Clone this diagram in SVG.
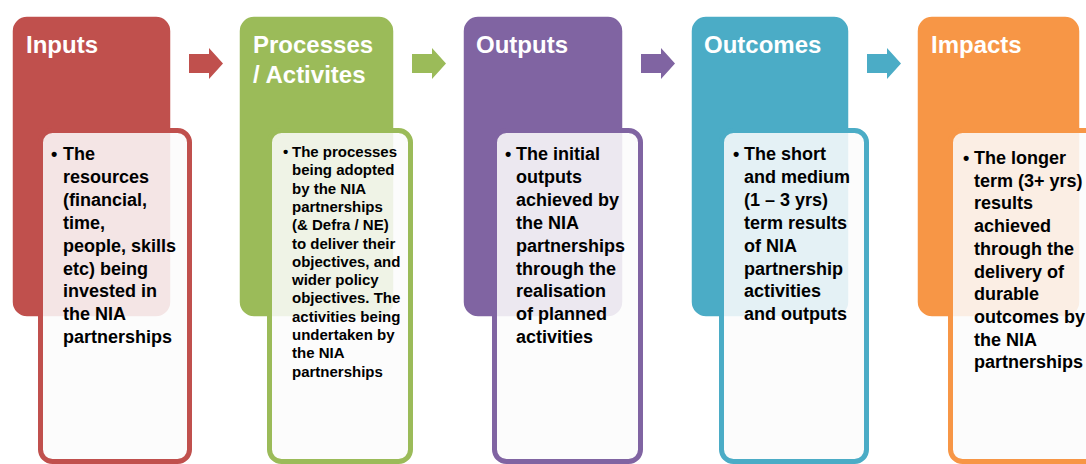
<svg xmlns="http://www.w3.org/2000/svg" width="1086" height="464" viewBox="0 0 1086 464">
<style>
.hd{stroke:#ffffff;stroke-width:1.5}
.tb{fill:#fcfcfc;fill-opacity:0.87;stroke-width:5}
.ht{font-family:"Liberation Sans",Arial,sans-serif;font-weight:bold;font-size:24px;fill:#ffffff}
.bt{font-family:"Liberation Sans",Arial,sans-serif;font-weight:bold;font-size:18px;fill:#000000}
.st{font-family:"Liberation Sans",Arial,sans-serif;font-weight:bold;font-size:15px;fill:#000000}
</style>
<rect width="1086" height="464" fill="#ffffff"/>
<g id="connectors">
<polygon points="189,54 209,54 209,48 223,63.5 209,79 209,73 189,73" fill="#C0504D"/>
<polygon points="412,54 432,54 432,48 446,63.5 432,79 432,73 412,73" fill="#9BBB59"/>
<polygon points="641,54 661,54 661,48 675,63.5 661,79 661,73 641,73" fill="#8064A2"/>
<polygon points="867,54 887,54 887,48 901,63.5 887,79 887,73 867,73" fill="#4BACC6"/>
</g>
<g id="inputs">
<rect class="hd" x="12" y="16" width="159" height="301" rx="15" fill="#C0504D"/>
<text class="ht" x="26" y="53">Inputs</text>
<rect class="tb" x="40.5" y="130.5" width="149" height="331" rx="12" stroke="#C0504D"/>
<text class="bt" x="51" y="160">•</text>
<text class="bt" x="63" y="160"><tspan x="63">The</tspan><tspan x="63" dy="22.9">resources</tspan><tspan x="63" dy="22.9">(financial,</tspan><tspan x="63" dy="22.9">time,</tspan><tspan x="63" dy="22.9">people, skills</tspan><tspan x="63" dy="22.9">etc) being</tspan><tspan x="63" dy="22.9">invested in</tspan><tspan x="63" dy="22.9">the NIA</tspan><tspan x="63" dy="22.9">partnerships</tspan></text>
</g>
<g id="processes">
<rect class="hd" x="239" y="16" width="155" height="301" rx="15" fill="#9BBB59"/>
<text class="ht" x="253" y="53">Processes</text>
<text class="ht" x="253" y="83">/ Activites</text>
<rect class="tb" x="269.5" y="130.5" width="141" height="331" rx="12" stroke="#9BBB59"/>
<text class="st" x="283" y="157">•</text>
<text class="st" x="292" y="157"><tspan x="292">The processes</tspan><tspan x="292" dy="18.3">being adopted</tspan><tspan x="292" dy="18.3">by the NIA</tspan><tspan x="292" dy="18.3">partnerships</tspan><tspan x="292" dy="18.3">(&amp; Defra / NE)</tspan><tspan x="292" dy="18.3">to deliver their</tspan><tspan x="292" dy="18.3">objectives, and</tspan><tspan x="292" dy="18.3">wider policy</tspan><tspan x="292" dy="18.3">objectives. The</tspan><tspan x="292" dy="18.3">activities being</tspan><tspan x="292" dy="18.3">undertaken by</tspan><tspan x="292" dy="18.3">the NIA</tspan><tspan x="292" dy="18.3">partnerships</tspan></text>
</g>
<g id="outputs">
<rect class="hd" x="463" y="16" width="160" height="301" rx="15" fill="#8064A2"/>
<text class="ht" x="476" y="53">Outputs</text>
<rect class="tb" x="494.5" y="130.5" width="146" height="331" rx="12" stroke="#8064A2"/>
<text class="bt" x="505" y="160">•</text>
<text class="bt" x="516" y="160"><tspan x="516">The initial</tspan><tspan x="516" dy="22.9">outputs</tspan><tspan x="516" dy="22.9">achieved by</tspan><tspan x="516" dy="22.9">the NIA</tspan><tspan x="516" dy="22.9">partnerships</tspan><tspan x="516" dy="22.9">through the</tspan><tspan x="516" dy="22.9">realisation</tspan><tspan x="516" dy="22.9">of planned</tspan><tspan x="516" dy="22.9">activities</tspan></text>
</g>
<g id="outcomes">
<rect class="hd" x="691" y="16" width="158" height="301" rx="15" fill="#4BACC6"/>
<text class="ht" x="704" y="53">Outcomes</text>
<rect class="tb" x="721.5" y="130.5" width="145" height="331" rx="12" stroke="#4BACC6"/>
<text class="bt" x="733" y="160">•</text>
<text class="bt" x="744" y="160"><tspan x="744">The short</tspan><tspan x="744" dy="22.9">and medium</tspan><tspan x="744" dy="22.9">(1 – 3 yrs)</tspan><tspan x="744" dy="22.9">term results</tspan><tspan x="744" dy="22.9">of NIA</tspan><tspan x="744" dy="22.9">partnership</tspan><tspan x="744" dy="22.9">activities</tspan><tspan x="744" dy="22.9">and outputs</tspan></text>
</g>
<g id="impacts">
<rect class="hd" x="917" y="16" width="163" height="301" rx="15" fill="#F79646"/>
<text class="ht" x="931" y="53">Impacts</text>
<rect class="tb" x="950.5" y="130.5" width="149" height="331" rx="12" stroke="#F79646"/>
<text class="bt" x="963" y="164">•</text>
<text class="bt" x="974" y="164"><tspan x="974">The longer</tspan><tspan x="974" dy="22.7">term (3+ yrs)</tspan><tspan x="974" dy="22.7">results</tspan><tspan x="974" dy="22.7">achieved</tspan><tspan x="974" dy="22.7">through the</tspan><tspan x="974" dy="22.7">delivery of</tspan><tspan x="974" dy="22.7">durable</tspan><tspan x="974" dy="22.7">outcomes by</tspan><tspan x="974" dy="22.7">the NIA</tspan><tspan x="974" dy="22.7">partnerships</tspan></text>
</g>
</svg>
